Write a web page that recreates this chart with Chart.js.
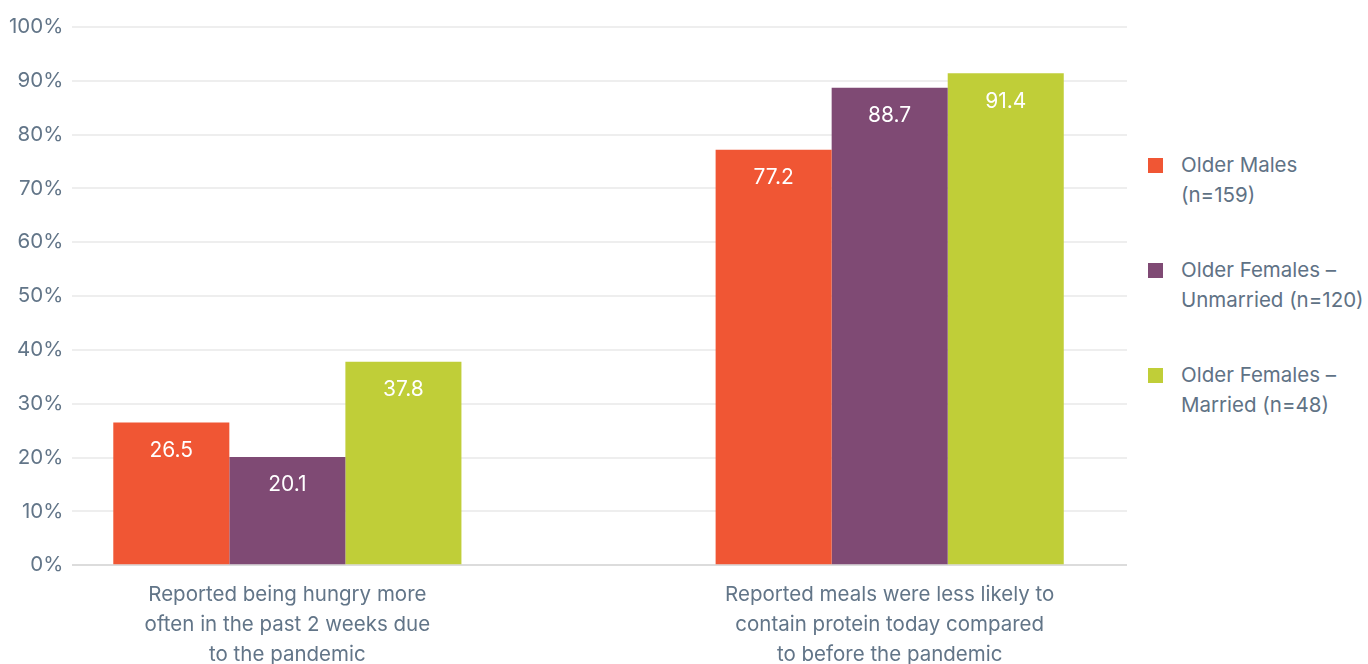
<!DOCTYPE html>
<html>
<head>
<meta charset="utf-8">
<script src="https://cdn.jsdelivr.net/npm/chart.js@4.4.0/dist/chart.umd.min.js"></script>
<style>
  body { margin: 0; background: #fff; font-family: Inter, sans-serif; overflow: hidden; }
  #wrap { position: relative; width: 1368px; height: 664px; overflow: hidden; }
  #chartBox { position: absolute; left: 0; top: 0; width: 1135px; height: 677px; }
  #legend { position: absolute; left: 1148px; top: 150px; color: #5f7285; font-size: 20.5px; line-height: 30px; }
  .item { position: relative; padding-left: 33px; margin-bottom: 45px; }
  .swatch { position: absolute; left: 0; top: 8px; width: 15px; height: 15px; }
</style>
</head>
<body>
<div id="wrap">
  <div id="chartBox"><canvas id="chart"></canvas></div>
  <div id="legend"></div>
</div>
<script>
const categories = [
    ['Reported being hungry more', 'often in the past 2 weeks due', 'to the pandemic'],
    ['Reported meals were less likely to', 'contain protein today compared', 'to before the pandemic']
];
const seriesNames = [
    ['Older Males', '(n=159)'],
    ['Older Females –', 'Unmarried (n=120)'],
    ['Older Females –', 'Married (n=48)']
];
const seriesColors = ['#f05634', '#7f4a74', '#c0ce38'];
const olderMales = [26.5, 77.2];
const femalesUnmarried = [20.1, 88.7];
const femalesMarried = [37.8, 91.4];
const yTicks = [0, 10, 20, 30, 40, 50, 60, 70, 80, 90, 100];

const textColor = '#627588';
const seriesValues = [olderMales, femalesUnmarried, femalesMarried];

const datasets = seriesValues.map((vals, i) => ({
    label: seriesNames[i].join(' '),
    data: vals.map((v, j) => ({ x: j, y: v })),
    backgroundColor: seriesColors[i],
    borderWidth: 0,
    categoryPercentage: 0.578,
    barPercentage: 1
}));

// white value labels inside the top of each bar
const valueLabels = {
    id: 'valueLabels',
    afterDatasetsDraw(chart) {
        const ctx = chart.ctx;
        ctx.save();
        ctx.fillStyle = '#ffffff';
        ctx.font = '21px Inter, sans-serif';
        ctx.textAlign = 'center';
        ctx.textBaseline = 'middle';
        chart.data.datasets.forEach((ds, i) => {
            chart.getDatasetMeta(i).data.forEach((bar, j) => {
                ctx.fillText(seriesValues[i][j].toFixed(1), bar.x, bar.y + 28);
            });
        });
        ctx.restore();
    }
};

new Chart(document.getElementById('chart'), {
    type: 'bar',
    data: { datasets: datasets },
    options: {
        responsive: true,
        maintainAspectRatio: false,
        animation: false,
        layout: { padding: { top: 27, left: 0, right: 8, bottom: 0 } },
        plugins: {
            legend: { display: false },
            tooltip: { enabled: false }
        },
        scales: {
            x: {
                type: 'linear',
                offset: false,
                min: -0.357,
                max: 1.394,
                grid: { display: false },
                border: { display: false },
                afterBuildTicks: axis => {
                    axis.ticks = categories.map((c, i) => ({ value: i }));
                },
                ticks: {
                    padding: 7,
                    color: textColor,
                    font: { family: 'Inter, sans-serif', size: 20.5, lineHeight: 1.46 },
                    maxRotation: 0,
                    callback: v => categories[v]
                }
            },
            y: {
                min: 0,
                max: 100,
                afterBuildTicks: axis => {
                    axis.ticks = yTicks.map(v => ({ value: v }));
                },
                border: { display: false },
                grid: {
                    drawTicks: false,
                    lineWidth: 2,
                    color: ctx => ctx.tick && ctx.tick.value === 0 ? '#dcdcdc' : '#eeeeee'
                },
                ticks: {
                    padding: 9,
                    color: textColor,
                    font: { family: 'Inter, sans-serif', size: 20.5 },
                    callback: v => v + '%'
                }
            }
        }
    },
    plugins: [valueLabels]
});

const legend = document.getElementById('legend');
seriesNames.forEach((lines, i) => {
    const item = document.createElement('div');
    item.className = 'item';
    const sw = document.createElement('span');
    sw.className = 'swatch';
    sw.style.background = seriesColors[i];
    item.appendChild(sw);
    lines.forEach(t => {
        const d = document.createElement('div');
        d.textContent = t;
        item.appendChild(d);
    });
    legend.appendChild(item);
});
</script>
</body>
</html>
